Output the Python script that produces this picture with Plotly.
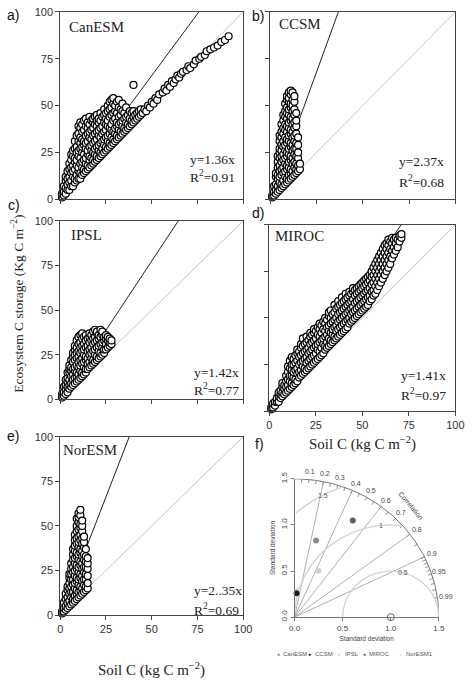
import numpy as np
import plotly.graph_objects as go

W, H = 474, 682

# ---- data ----
models = ["CanESM", "CCSM", "IPSL", "MIROC", "NorESM"]
panel_tags = ["a)", "b)", "c)", "d)", "e)"]
eq_labels = ["y=1.36x", "y=2.37x", "y=1.42x", "y=1.41x", "y=2..35x"]
r2_labels = ["0.91", "0.68", "0.77", "0.97", "0.69"]
line_slopes = [1.32, 2.72, 1.55, 1.41, 2.65]   # slope of the black line as drawn

# rows: (soil C, ecosystem C values ...)
canesm_rows = [
    (1, 1, 3), (2, 2, 4, 7), (3, 3, 6, 10, 12), (4, 5, 8, 11, 15), (5, 5, 9, 12, 16, 19),
    (6, 7, 10, 14, 17, 21, 24), (7, 7, 12, 15, 18, 23, 26), (8, 9, 11, 16, 20, 22, 27, 31),
    (9, 10, 13, 18, 21, 25, 28, 34), (10, 11, 15, 17, 23, 26, 31, 35, 39),
    (11, 11, 14, 19, 22, 27, 30, 33, 38, 41), (12, 13, 17, 20, 25, 28, 32, 36, 40),
    (13, 14, 16, 21, 24, 29, 31, 37, 42), (14, 15, 19, 22, 27, 30, 34, 39, 43),
    (15, 16, 18, 24, 26, 31, 35, 38, 41), (16, 17, 21, 23, 28, 33, 36, 40, 44),
    (17, 18, 22, 26, 29, 32, 37, 42), (18, 19, 21, 25, 30, 34, 38, 41, 43),
    (19, 20, 24, 27, 31, 35, 40, 44), (20, 21, 23, 28, 32, 36, 39, 42, 45),
    (21, 22, 26, 29, 34, 37, 41, 43), (22, 23, 25, 30, 33, 38, 42, 46),
    (23, 24, 27, 31, 35, 39, 44), (24, 25, 29, 32, 36, 41, 45, 48),
    (25, 26, 28, 33, 37, 40, 43, 46), (26, 27, 31, 34, 39, 42, 47, 50),
    (27, 28, 30, 35, 38, 44, 48, 52), (28, 29, 33, 37, 40, 45, 49, 53),
    (29, 30, 32, 36, 42, 46, 51, 54), (30, 31, 35, 38, 43, 47, 50),
    (31, 32, 34, 39, 41, 46, 52), (32, 33, 37, 40, 44, 49, 53), (33, 34, 36, 41, 45, 48),
    (34, 35, 39, 42, 47, 51), (35, 36, 38, 43, 46), (36, 37, 41, 44, 49), (37, 38, 40, 45),
    (38, 39, 43, 47), (39, 40, 42, 46), (40, 41, 44, 47, 61), (41, 42, 45), (42, 43, 46),
    (43, 44, 47), (44, 45, 48), (45, 46), (46, 48), (47, 47), (48, 50), (49, 49), (50, 52),
    (51, 51), (52, 54), (53, 53), (54, 56), (56, 57), (57, 59), (58, 58), (59, 61),
    (60, 60), (61, 63), (62, 62), (63, 64), (64, 66), (65, 65), (66, 67), (67, 68),
    (69, 69), (70, 71), (71, 70), (73, 72), (74, 74), (76, 75), (77, 76), (79, 77),
    (80, 79), (82, 80), (84, 81), (86, 82), (88, 84), (90, 85), (92, 87),
]
ccsm_rows = [
    (1, 1, 2), (2, 2, 4, 7), (3, 3, 5, 8, 12, 14), (4, 4, 7, 11, 13, 17, 20, 23),
    (5, 5, 9, 12, 15, 18, 22, 25, 27, 31, 34),
    (6, 6, 8, 13, 16, 20, 23, 26, 29, 33, 36, 40),
    (7, 7, 10, 14, 17, 21, 24, 28, 31, 35, 38, 42, 45),
    (8, 8, 12, 15, 19, 22, 26, 29, 33, 37, 40, 44, 47, 51),
    (9, 9, 11, 16, 18, 23, 25, 30, 32, 36, 39, 43, 46, 49, 53, 55),
    (10, 10, 13, 17, 20, 24, 27, 31, 34, 38, 41, 45, 48, 52, 54, 57),
    (11, 11, 14, 16, 21, 23, 28, 30, 35, 37, 42, 44, 49, 51, 56, 58),
    (12, 12, 15, 19, 22, 26, 29, 33, 36, 40, 43, 47, 50, 53, 57),
    (13, 13, 17, 20, 24, 27, 31, 34, 38, 41, 45, 48, 52, 55),
    (14, 14, 16, 19, 23, 27, 30, 35, 39, 42, 46), (15, 15, 18, 22, 25, 29, 33),
    (16, 16, 19),
]
ipsl_rows = [
    (1, 1, 3), (2, 2, 4, 7), (3, 3, 6, 8, 11), (4, 4, 7, 10, 12, 15),
    (5, 6, 8, 11, 15, 17, 19), (6, 7, 9, 13, 16, 18, 22), (7, 8, 11, 14, 17, 21, 24, 26),
    (8, 9, 12, 16, 18, 22, 25, 28, 30), (9, 10, 13, 15, 19, 23, 26, 29, 33),
    (10, 11, 14, 18, 21, 24, 27, 31, 35), (11, 12, 16, 19, 22, 26, 29, 32, 36),
    (12, 13, 15, 20, 23, 27, 30, 34, 37), (13, 14, 18, 21, 25, 28, 31, 35),
    (14, 15, 17, 22, 24, 29, 33, 36), (15, 17, 20, 23, 27, 30, 34),
    (16, 18, 21, 25, 28, 32, 35, 37), (17, 19, 23, 26, 29, 33, 36),
    (18, 20, 22, 27, 31, 34, 38), (19, 21, 25, 28, 32, 35, 39), (20, 22, 24, 29, 33, 37, 38),
    (21, 23, 27, 30, 34, 36), (22, 24, 26, 31, 35, 39), (23, 25, 29, 32, 36, 38),
    (24, 26, 28, 33, 35), (25, 28, 31, 34, 36), (26, 29, 33, 35), (27, 30, 32, 34),
    (28, 31, 33),
]
miroc_rows = [
    (1, 1, 2), (2, 2, 4), (3, 3, 5), (4, 5, 7), (5, 5, 8, 10), (6, 7, 9, 11),
    (7, 8, 10, 13, 15), (8, 9, 12, 14), (9, 10, 13, 16, 19), (10, 11, 14, 17, 21, 24),
    (11, 12, 16, 19, 23, 27), (12, 13, 15, 19, 22, 25, 29), (13, 14, 18, 21, 25, 28),
    (14, 15, 17, 22, 26, 30), (15, 16, 20, 23, 27, 31, 33), (16, 18, 21, 25, 29, 32),
    (17, 19, 22, 26, 30, 34, 36), (18, 20, 24, 27, 31, 35, 39), (19, 21, 23, 28, 32, 36),
    (20, 22, 26, 29, 33, 37, 40), (21, 23, 27, 31, 34, 38), (22, 24, 28, 32, 36, 40, 42),
    (23, 25, 29, 33, 37, 41), (24, 26, 30, 34, 38, 42, 44), (25, 27, 31, 35, 39, 43),
    (26, 28, 33, 36, 41, 45), (27, 29, 32, 37, 40, 44, 47), (28, 30, 34, 38, 42, 46),
    (29, 31, 36, 39, 44, 48), (30, 33, 35, 40, 43, 47, 50), (31, 34, 37, 41, 45, 49),
    (32, 35, 39, 43, 46, 51, 53), (33, 36, 38, 42, 47, 50, 54), (34, 37, 41, 44, 48, 52),
    (35, 38, 40, 45, 49, 53, 57), (36, 39, 43, 46, 50, 55), (37, 40, 44, 48, 52, 56, 59),
    (38, 41, 45, 49, 53, 57), (39, 42, 46, 50, 54, 58, 61), (40, 43, 47, 51, 55, 59),
    (41, 44, 48, 52, 56, 60, 63), (42, 45, 49, 53, 57, 61), (43, 47, 50, 54, 58, 62, 64),
    (44, 48, 52, 55, 59, 63), (45, 49, 53, 56, 60, 64, 66), (46, 50, 54, 58, 62, 65),
    (47, 51, 55, 59, 63, 66), (48, 52, 56, 60, 64, 67), (49, 53, 57, 61, 65, 68),
    (50, 54, 58, 62, 66, 69), (51, 55, 59, 63, 67, 70), (52, 56, 60, 64, 68, 71),
    (53, 57, 61, 65, 69, 72), (54, 59, 62, 66, 70, 73), (55, 60, 64, 68, 72, 75),
    (56, 62, 65, 69, 73, 77), (57, 63, 67, 71, 75, 79), (58, 65, 69, 73, 77, 81),
    (59, 67, 71, 75, 79, 83), (60, 69, 73, 77, 81, 85), (61, 71, 75, 79, 83, 87),
    (62, 73, 77, 81, 85, 89), (63, 75, 79, 83, 87, 90), (64, 77, 81, 85, 89, 92),
    (65, 79, 83, 87, 91), (66, 82, 86, 90, 93), (67, 84, 88, 92), (68, 86, 90, 93),
    (69, 88, 92), (70, 91, 94), (71, 93, 95),
]
noresm_rows = [
    (1, 1, 2), (2, 2, 4, 7), (3, 3, 5, 9, 12), (4, 4, 7, 10, 14, 16),
    (5, 5, 8, 12, 15, 18, 21, 23), (6, 6, 10, 13, 16, 20, 23, 26, 29),
    (7, 7, 9, 13, 17, 20, 24, 27, 31, 34, 37),
    (8, 8, 11, 15, 18, 22, 25, 29, 32, 36, 39, 42, 45),
    (9, 9, 12, 14, 19, 21, 26, 28, 33, 35, 40, 43, 47, 50, 54),
    (10, 10, 13, 17, 20, 24, 27, 31, 34, 38, 41, 44, 48, 52, 55, 57),
    (11, 11, 14, 16, 21, 23, 28, 30, 35, 37, 42, 45, 49, 51, 56, 59),
    (12, 12, 15, 19, 22, 26, 29, 33, 36, 40, 43, 47, 50, 53),
    (13, 13, 17, 20, 24, 27, 31, 34, 38, 41, 44), (14, 14, 16, 20, 23, 27, 30, 33, 37),
    (15, 15, 18, 22, 26, 29, 32),
]
all_rows = [canesm_rows, ccsm_rows, ipsl_rows, miroc_rows, noresm_rows]

# Taylor diagram (panel f)
taylor_models = ["CanESM", "CCSM", "IPSL", "MIROC", "NorESM1"]
taylor_sd = [0.86, 0.26, 0.56, 1.21, 0.29]
taylor_corr = [0.26, 0.08, 0.44, 0.50, 0.10]
taylor_colors = ["#8c8c8c", "#1e1e1e", "#d0d0d0", "#5f5f5f", "#e2e2e2"]
ref_sd = 1.0
corr_labels = [0.1, 0.2, 0.3, 0.4, 0.5, 0.6, 0.7, 0.8, 0.9, 0.95, 0.99]
corr_lines = [0.2, 0.4, 0.6, 0.8, 0.9]
rms_levels = [0.5, 1.0, 1.5]
rms_label_angle = [75, 96, 118]

# panel boxes in pixels: left, right, top, bottom
boxes = [(56, 245, 5, 196), (273, 464, 5, 196), (56, 245, 218, 400),
         (272, 464, 222, 412), (56, 245, 438, 620)]
taylor_box = (298, 447, 481, 622)


def px_dom(b):
    return [b[0] / W, b[1] / W], [1 - b[3] / H, 1 - b[2] / H]


def taylor_paper(x, y):
    l, r, t, b = taylor_box
    return (l + x / 1.5 * (r - l)) / W, 1 - (b - y / 1.5 * (b - t)) / H


fig = go.Figure()
annos = []
serif = "Liberation Serif"
sans = "Liberation Sans"

for i, rows in enumerate(all_rows):
    n = i + 1
    xa, ya = ("x", "y") if n == 1 else (f"x{n}", f"y{n}")
    xs = [r[0] for r in rows for _ in r[1:]]
    ys = [v for r in rows for v in r[1:]]
    fig.add_trace(go.Scatter(x=[0, 100], y=[0, 100], mode="lines",
                             line=dict(color="#c4c4c4", width=1),
                             xaxis=xa, yaxis=ya, showlegend=False))
    x_end = min(100, 100 / line_slopes[i])
    fig.add_trace(go.Scatter(x=[0, x_end], y=[0, x_end * line_slopes[i]], mode="lines",
                             line=dict(color="#222", width=1),
                             xaxis=xa, yaxis=ya, showlegend=False))
    fig.add_trace(go.Scatter(x=xs, y=ys, mode="markers", cliponaxis=False,
                             marker=dict(symbol="circle", size=7, color="white",
                                         line=dict(color="black", width=1.2)),
                             xaxis=xa, yaxis=ya, showlegend=False))

    dx, dy = px_dom(boxes[i])
    ax = dict(domain=dx, range=[0, 100], tickvals=[0, 25, 50, 75, 100],
              ticks="outside", ticklen=4, tickcolor="#444", showline=True, mirror=True,
              linecolor="#444", linewidth=1, showgrid=False, zeroline=False,
              showticklabels=n in (4, 5), anchor=ya,
              tickfont=dict(family=sans, size=11, color="#333"))
    ay = dict(domain=dy, range=[0, 100], tickvals=[0, 25, 50, 75, 100],
              ticks="outside", ticklen=4, tickcolor="#444", showline=True, mirror=True,
              linecolor="#444", linewidth=1, showgrid=False, zeroline=False,
              showticklabels=n in (1, 3, 5), anchor=xa,
              tickfont=dict(family=sans, size=11, color="#333"))
    fig.update_layout({("xaxis" if n == 1 else f"xaxis{n}"): ax,
                       ("yaxis" if n == 1 else f"yaxis{n}"): ay})

# text positions (px)
name_pos = [(63, 20), (280, 17), (65, 232), (276, 233), (57, 452)]
eq_pos = [(188, 155, 173), (404, 158, 178), (192, 373, 390), (406, 376, 395), (192, 595, 614)]
tag_pos = [(7, 8), (260, 9), (8, 202), (260, 210), (7, 437)]

for i in range(5):
    annos.append(dict(text=models[i], x=name_pos[i][0] / W, y=1 - name_pos[i][1] / H,
                      xanchor="left", yanchor="middle",
                      font=dict(family=serif, size=15, color="#222")))
    ex, ey1, ey2 = eq_pos[i]
    annos.append(dict(text=eq_labels[i], x=ex / W, y=1 - ey1 / H, xanchor="left",
                      yanchor="middle", font=dict(family=serif, size=13.5, color="#222")))
    annos.append(dict(text="R<sup>2</sup>=" + r2_labels[i], x=ex / W, y=1 - ey2 / H,
                      xanchor="left", yanchor="middle",
                      font=dict(family=serif, size=13.5, color="#222")))
    annos.append(dict(text=panel_tags[i], x=tag_pos[i][0] / W, y=1 - tag_pos[i][1] / H,
                      xanchor="center", yanchor="middle",
                      font=dict(family=sans, size=14, color="#111")))
annos.append(dict(text="f)", x=262 / W, y=1 - 445 / H, xanchor="center", yanchor="middle",
                  font=dict(family=sans, size=14, color="#111")))

annos.append(dict(text="Ecosystem C storage (Kg C m<sup>−2</sup>)", x=12 / W, y=1 - 303 / H,
                  textangle=-90, xanchor="center", yanchor="middle",
                  font=dict(family=serif, size=13.5, color="#222")))
for cx, cy in [(368, 445), (150, 675)]:
    annos.append(dict(text="Soil C (kg C m<sup>−2</sup>)", x=cx / W, y=1 - cy / H,
                      xanchor="center", yanchor="middle",
                      font=dict(family=serif, size=15, color="#222")))

# ---- Taylor diagram ----
tx, ty = "x6", "y6"
t = np.linspace(0, np.pi / 2, 120)
fig.add_trace(go.Scatter(x=1.5 * np.cos(t), y=1.5 * np.sin(t), mode="lines",
                         line=dict(color="#777", width=1), cliponaxis=False,
                         xaxis=tx, yaxis=ty, showlegend=False))

# radial correlation lines
for c in corr_lines:
    fig.add_trace(go.Scatter(x=[0, 1.5 * c], y=[0, 1.5 * np.sqrt(1 - c * c)], mode="lines",
                             line=dict(color="#9a9a9a", width=0.8),
                             xaxis=tx, yaxis=ty, showlegend=False))

# tick marks along the outer arc
tick_c = list(np.arange(0.05, 0.91, 0.05)) + list(np.arange(0.91, 1.0, 0.01))
tkx, tky = [], []
for c in tick_c:
    s = np.sqrt(1 - c * c)
    tkx += [1.5 * c, 1.46 * c, None]
    tky += [1.5 * s, 1.46 * s, None]
fig.add_trace(go.Scatter(x=tkx, y=tky, mode="lines", line=dict(color="#777", width=0.8),
                         xaxis=tx, yaxis=ty, showlegend=False))

# centred RMS difference arcs
a = np.linspace(0, np.pi, 300)
for rr, la in zip(rms_levels, rms_label_angle):
    ax_ = ref_sd + rr * np.cos(a)
    ay_ = rr * np.sin(a)
    keep = (ax_ >= 0) & (np.hypot(ax_, ay_) <= 1.5)
    fig.add_trace(go.Scatter(x=np.where(keep, ax_, np.nan), y=np.where(keep, ay_, np.nan),
                             mode="lines", line=dict(color="#d2d2d2", width=1.3),
                             xaxis=tx, yaxis=ty, showlegend=False))
    px_, py_ = taylor_paper(ref_sd + rr * np.cos(np.radians(la)), rr * np.sin(np.radians(la)))
    annos.append(dict(text=f"{rr:g}", x=px_, y=py_, xanchor="center", yanchor="middle",
                      font=dict(family=sans, size=7, color="#555")))

for c in corr_labels:
    px_, py_ = taylor_paper(1.585 * c, 1.585 * np.sqrt(1 - c * c))
    annos.append(dict(text=f"{c:g}", x=px_, y=py_, xanchor="center", yanchor="middle",
                      font=dict(family=sans, size=7, color="#444")))
annos.append(dict(text="Correlation", x=418 / W, y=1 - 508 / H, textangle=50,
                  xanchor="center", yanchor="middle",
                  font=dict(family=sans, size=7, color="#444")))

# reference point
fig.add_trace(go.Scatter(x=[ref_sd], y=[0], mode="markers", cliponaxis=False,
                         marker=dict(symbol="circle-open", size=7, color="#666",
                                     line=dict(width=1)),
                         xaxis=tx, yaxis=ty, showlegend=False))
for k in [0, 4, 2, 3, 1]:
    c = taylor_corr[k]
    fig.add_trace(go.Scatter(x=[taylor_sd[k] * c], y=[taylor_sd[k] * np.sqrt(1 - c * c)],
                             mode="markers", cliponaxis=False,
                             marker=dict(size=6, color=taylor_colors[k]),
                             xaxis=tx, yaxis=ty, showlegend=False))

tdx, tdy = px_dom(taylor_box)
tfont = dict(family=sans, size=8, color="#444")
fig.update_layout(
    xaxis6=dict(domain=tdx, range=[0, 1.5], tickvals=[0, 0.5, 1, 1.5],
                ticktext=["0.0", "0.5", "1.0", "1.5"], ticks="outside", ticklen=3,
                tickcolor="#777", showline=True, linecolor="#777", linewidth=1,
                showgrid=False, zeroline=False, anchor=ty, tickfont=tfont,
                title=dict(text="Standard deviation", font=dict(family=sans, size=6.5, color="#444"),
                           standoff=4)),
    yaxis6=dict(domain=tdy, range=[0, 1.5], tickvals=[0, 0.5, 1, 1.5],
                ticktext=["0.0", "0.5", "1.0", "1.5"], ticks="outside", ticklen=3,
                tickcolor="#777", showline=True, linecolor="#777", linewidth=1,
                showgrid=False, zeroline=False, anchor=tx, tickfont=tfont, tickangle=-90,
                title=dict(text="Standard deviation", font=dict(family=sans, size=6.5, color="#444"),
                           standoff=4)),
)

# legend row for the Taylor diagram
leg_dot = [281, 313, 343, 370, 407]
leg_txt = [284, 317, 348, 373, 411]
for k in range(5):
    annos.append(dict(text="●", x=leg_dot[k] / W, y=1 - 660 / H, xanchor="center",
                      yanchor="middle", font=dict(family=sans, size=5, color=taylor_colors[k])))
    annos.append(dict(text=taylor_models[k], x=leg_txt[k] / W, y=1 - 660 / H, xanchor="left",
                      yanchor="middle", font=dict(family=sans, size=6, color="#555")))

for an in annos:
    an.setdefault("xref", "paper")
    an.setdefault("yref", "paper")
    an.setdefault("showarrow", False)

fig.update_layout(width=W, height=H, autosize=False, margin=dict(l=0, r=0, t=0, b=0),
                  plot_bgcolor="white", paper_bgcolor="white", annotations=annos,
                  showlegend=False)

fig.write_html("out.html", config={"displayModeBar": False},
               post_script="document.body.style.margin='0';")
